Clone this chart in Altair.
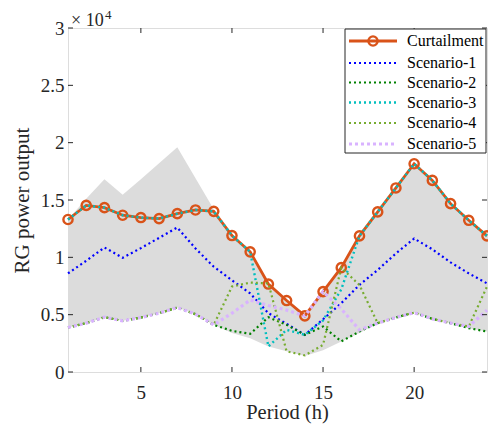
import altair as alt
import pandas as pd

# ---------------- data ----------------
hours = list(range(1, 25))

curtailment = [13300, 14530, 14330, 13670, 13470, 13380, 13810, 14130, 14010, 11900,
               10480, 7670, 6230, 4890, 7010, 9100, 11870, 13960, 16050, 18160,
               16710, 14680, 13230, 11870]

scenario_1 = [8600, 9700, 10860, 9960, 10800, 11700, 12600, 10770, 9180, 8000,
              6860, 5130, 4200, 3240, 4600, 6000, 7600, 8900, 10340, 11640,
              10700, 9560, 8600, 7730]

scenario_2 = [3880, 4260, 4780, 4460, 4750, 5130, 5620, 5040, 4110, 3590,
              3330, 4780, 4110, 3240, 3970, 2670, 3530, 4260, 4750, 5180,
              4630, 4260, 3820, 3530]

scenario_3 = [13300, 14530, 14330, 13670, 13470, 13380, 13810, 14130, 14010, 11900,
              10480, 2230, 3680, 3240, 4500, 7200, 11870, 13960, 16050, 18160,
              16710, 14680, 13230, 11870]

scenario_4 = [3880, 4260, 4780, 4460, 4750, 5130, 5620, 5040, 4110, 7450,
              7800, 7730, 1800, 1450, 2370, 9100, 7580, 4260, 4750, 5180,
              4630, 4260, 3970, 7450]

scenario_5 = [3880, 4260, 4780, 4460, 4750, 5130, 5620, 5040, 4110, 5130,
              6280, 5800, 5400, 4890, 7010, 5500, 3670, 4260, 4750, 5180,
              4630, 4260, 3970, 5400]

band_upper = [13300, 15100, 16800, 15460, 16800, 18200, 19610, 16900, 14200, 11900,
              10480, 7670, 6230, 4890, 7010, 9100, 11870, 13960, 16050, 18160,
              16710, 14680, 13230, 11870]

band_lower = [3880, 4260, 4780, 4460, 4750, 5130, 5620, 5040, 4110, 3400,
              2950, 2230, 1800, 1400, 1900, 2670, 3400, 4260, 4750, 5180,
              4630, 4260, 3820, 3530]

series_names = ["Curtailment", "Scenario-1", "Scenario-2", "Scenario-3",
                "Scenario-4", "Scenario-5"]
x_ticks = [5, 10, 15, 20]
y_ticks = [0, 5000, 10000, 15000, 20000, 25000, 30000]

# ---------------- styles ----------------
W, H = 419, 344
PAD_L = 60
FONT = "Liberation Serif"
INK = "#262626"
ORANGE = "#D95319"
sc_colors = ["#0000FF", "#008000", "#00BFBF", "#77AC30", "#D9B3FF"]
sc_dash = [[2, 3], [2, 3], [2, 3], [2, 3], [3, 3]]
sc_width = [2.2, 2.2, 2.4, 2.2, 3.2]

xs = alt.Scale(domain=[1, 24], nice=False)
ys = alt.Scale(domain=[0, 30000], nice=False)

scen_values = [scenario_1, scenario_2, scenario_3, scenario_4, scenario_5]

band_df = pd.DataFrame({"hour": hours, "upper": band_upper, "lower": band_lower})
curt_df = pd.DataFrame({"hour": hours, "value": curtailment})

x_axis = alt.Axis(values=x_ticks, ticks=False, domain=False, grid=False,
                  labelFont=FONT, labelFontSize=19, labelColor=INK, labelPadding=11,
                  title="Period (h)", titleFont=FONT, titleFontSize=20.5,
                  titleFontWeight="normal", titleColor=INK, titlePadding=0,
                  titleX=219, titleAlign="center")
y_axis = alt.Axis(values=y_ticks, ticks=False, domain=False, grid=False,
                  labelExpr="datum.value / 10000",
                  labelFont=FONT, labelFontSize=19, labelColor=INK, labelPadding=4,
                  title="RG power output", titleFont=FONT, titleFontSize=21,
                  titleFontWeight="normal", titleColor=INK, titlePadding=8)

band = alt.Chart(band_df).mark_area(color="#DCDCDC", opacity=1).encode(
    x=alt.X("hour:Q", scale=xs, axis=x_axis),
    y=alt.Y("upper:Q", scale=ys, axis=y_axis),
    y2="lower:Q",
)

curt_line = alt.Chart(curt_df).mark_line(color=ORANGE, strokeWidth=2.8).encode(
    x=alt.X("hour:Q", scale=xs), y=alt.Y("value:Q", scale=ys))
curt_pts = alt.Chart(curt_df).mark_point(shape="circle", filled=False, color=ORANGE,
                                         size=85, strokeWidth=2.4, opacity=1).encode(
    x=alt.X("hour:Q", scale=xs), y=alt.Y("value:Q", scale=ys))

layers = [band, curt_line, curt_pts]
for i, vals in enumerate(scen_values):
    d = pd.DataFrame({"hour": hours, "value": vals})
    layers.append(
        alt.Chart(d).mark_line(color=sc_colors[i], strokeDash=sc_dash[i],
                               strokeWidth=sc_width[i]).encode(
            x=alt.X("hour:Q", scale=xs), y=alt.Y("value:Q", scale=ys)))

# inward ticks on all four sides
xt = pd.DataFrame({"t": x_ticks})
yt = pd.DataFrame({"t": y_ticks})
TL = 5
layers.append(alt.Chart(xt).mark_rule(color=INK, strokeWidth=1).encode(
    x=alt.X("t:Q", scale=xs), y=alt.value(H), y2=alt.value(H - TL)))
layers.append(alt.Chart(xt).mark_rule(color=INK, strokeWidth=1).encode(
    x=alt.X("t:Q", scale=xs), y=alt.value(0), y2=alt.value(TL)))
layers.append(alt.Chart(yt).mark_rule(color=INK, strokeWidth=1).encode(
    y=alt.Y("t:Q", scale=ys), x=alt.value(0), x2=alt.value(TL)))
layers.append(alt.Chart(yt).mark_rule(color=INK, strokeWidth=1).encode(
    y=alt.Y("t:Q", scale=ys), x=alt.value(W), x2=alt.value(W - TL)))

one = pd.DataFrame({"a": [0]})

# exponent label
layers.append(alt.Chart(one).mark_text(
    text="\u00d7 10", font=FONT, fontSize=18, color=INK, align="left",
    baseline="alphabetic").encode(x=alt.value(3), y=alt.value(-2)))
layers.append(alt.Chart(one).mark_text(
    text="4", font=FONT, fontSize=13, color=INK, align="left",
    baseline="alphabetic").encode(x=alt.value(37), y=alt.value(-9)))

# legend (manual, MATLAB style)
LX0, LX1 = 277, 418
LY0, LY1 = 1, 125
row_y = [13, 35, 54.5, 74.5, 95, 116]
sym0, sym1 = 281, 329
txt_x = 339
layers.append(alt.Chart(one).mark_rect(
    fill="white", stroke=INK, strokeWidth=1).encode(
    x=alt.value(LX0), x2=alt.value(LX1), y=alt.value(LY0), y2=alt.value(LY1)))
layers.append(alt.Chart(one).mark_rule(color=ORANGE, strokeWidth=2.8).encode(
    x=alt.value(sym0), x2=alt.value(sym1), y=alt.value(row_y[0])))
layers.append(alt.Chart(one).mark_point(shape="circle", filled=False, color=ORANGE,
                                        size=85, strokeWidth=2.4, opacity=1).encode(
    x=alt.value((sym0 + sym1) / 2), y=alt.value(row_y[0])))
for i in range(5):
    layers.append(alt.Chart(one).mark_rule(color=sc_colors[i], strokeDash=sc_dash[i],
                                           strokeWidth=sc_width[i]).encode(
        x=alt.value(sym0), x2=alt.value(sym1), y=alt.value(row_y[i + 1])))
for i, name in enumerate(series_names):
    layers.append(alt.Chart(one).mark_text(
        text=name, font=FONT, fontSize=16, color="black", align="left",
        baseline="middle").encode(x=alt.value(txt_x), y=alt.value(row_y[i])))

chart = alt.layer(*layers).properties(
    width=W, height=H,
    padding={"left": PAD_L, "top": 20, "right": 1, "bottom": 52},
    autosize=alt.AutoSizeParams(type="none"),
).configure_view(stroke=INK, strokeWidth=1).configure(background="white")

chart.save("out.html", embed_options={"renderer": "svg", "actions": False})
